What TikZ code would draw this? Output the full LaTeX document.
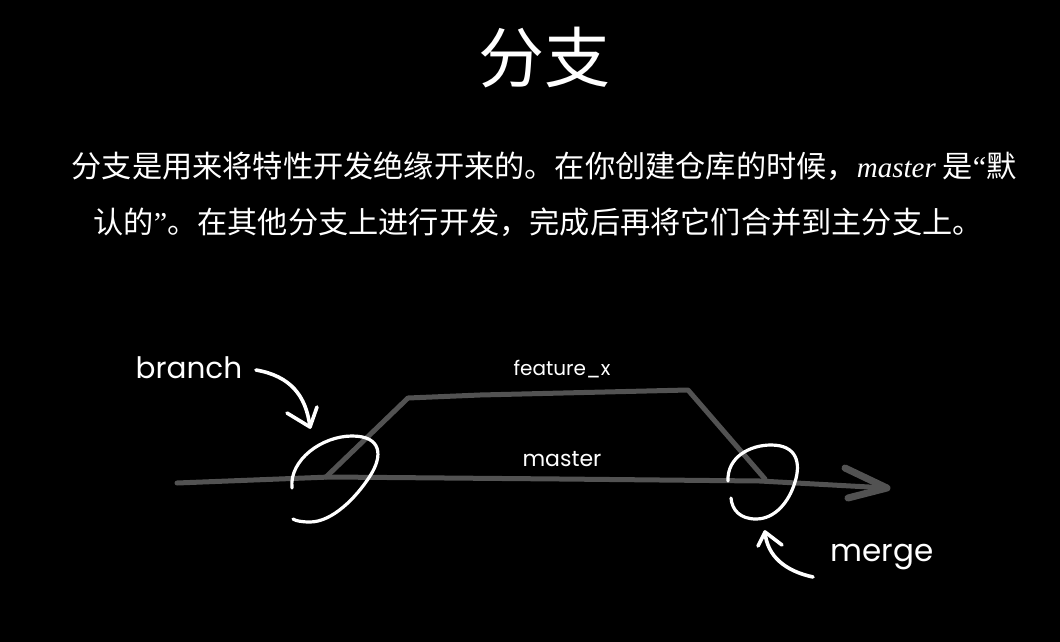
\documentclass[tikz,border=0pt]{standalone}
\usepackage{fontspec}
\newfontfamily\cjk{Noto Sans CJK SC}
\newfontfamily\lser{Liberation Serif}
\newfontfamily\hand{Poppins}
\definecolor{linegray}{RGB}{82,82,82}
\tikzset{
  titletext/.style={text=white, font=\cjk\fontsize{66}{72}\selectfont, inner sep=0pt},
  paratext/.style={text=white, font=\cjk\fontsize{30.2}{34}\selectfont, inner sep=0pt},
  handlabel/.style={text=white, inner sep=0pt},
  gitline/.style={draw=linegray, line width=5pt, line cap=round, line join=round},
  arrowarm/.style={draw=linegray, line width=7pt, line cap=round, line join=round},
  hoop/.style={draw=white, line width=3.2pt, line cap=round},
  handarrow/.style={draw=white, line width=3.6pt, line cap=round, line join=round}
}
\begin{document}
\begin{tikzpicture}[x=1pt,y=-1pt]
\fill[black] (0,0) rectangle (1060,642);
\useasboundingbox (0,0) rectangle (1060,642);

% title and paragraph
\node[titletext] (title) at (544,58) {分支};
\node[paratext] (l1) at (544,166) {分支是用来将特性开发绝缘开来的。在你创建仓库的时候，{\lser\itshape\fontsize{29}{32}\selectfont master} 是{\lser “}默};
\node[paratext] (l2) at (538,222) {认的{\lser ”}。在其他分支上进行开发，完成后再将它们合并到主分支上。};

% named points
\coordinate (m0) at (177,483);
\coordinate (mend) at (887,488);
\coordinate (bstart) at (326,477);
\coordinate (bup) at (408,398);
\coordinate (bright) at (688,390);
\coordinate (bmerge) at (765,479);

% master line with arrow
\draw[gitline] (m0) -- (330,477) -- (560,479) -- (760,481) -- (mend);
\draw[arrowarm] (845,468) -- (mend) -- (848,498);

% feature branch
\draw[gitline] (bstart) -- (bup) -- (480,395) -- (bright) -- (701,405) -- (bmerge);

% loops
\draw[hoop] (292,488) .. controls (289,460) and (322,436) .. (352,436)
  .. controls (382,436) and (383,456) .. (370,476)
  .. controls (356,498) and (332,522) .. (310,522)
  .. controls (302,522) and (296,521) .. (293,519);
\draw[hoop] (728,481) .. controls (727,457) and (750,445) .. (771,445)
  .. controls (797,445) and (801,463) .. (795,482)
  .. controls (789,502) and (775,519) .. (756,519)
  .. controls (740,519) and (732,510) .. (731,498);

% labels
\node[handlabel, font=\hand\fontsize{29.5}{32}\selectfont] (branch) at (189,368) {branch};
\node[handlabel, font=\hand\fontsize{20}{22}\selectfont] (feature) at (562,369) {feature\_x};
\node[handlabel, font=\hand\fontsize{22}{24}\selectfont] (master) at (562,459) {master};
\node[handlabel, font=\hand\fontsize{31}{33}\selectfont] (merge) at (882,557) {merge};

% hand arrows
\coordinate (brA) at (256,370);
\coordinate (brT) at (310,427);
\draw[handarrow] (brA) .. controls (290,376) and (306,395) .. (brT);
\draw[handarrow] (287,413) -- (brT) -- (317,407);
\coordinate (mgA) at (813,577);
\coordinate (mgT) at (765,532);
\draw[handarrow] (mgA) .. controls (785,571) and (767,556) .. (mgT);
\draw[handarrow] (758,546) -- (mgT) -- (782,545);
\end{tikzpicture}
\end{document}
